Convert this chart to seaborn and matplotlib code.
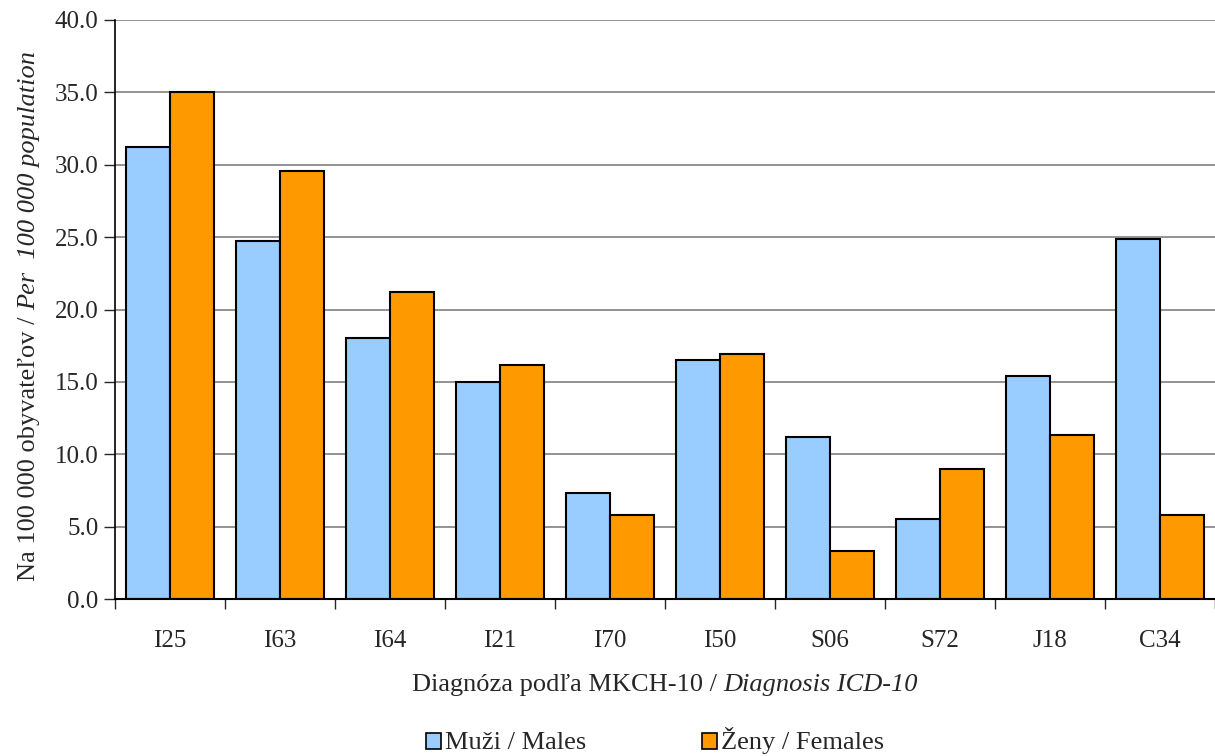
import numpy as np
import pandas as pd
import matplotlib
matplotlib.use("Agg")
import matplotlib.pyplot as plt
import seaborn as sns
from matplotlib.patches import Rectangle
from matplotlib.ticker import FormatStrFormatter, MultipleLocator

diagnoses = ["I25", "I63", "I64", "I21", "I70", "I50", "S06", "S72", "J18", "C34"]
males = [31.2, 24.7, 18.0, 15.0, 7.3, 16.5, 11.2, 5.5, 15.4, 24.9]
females = [35.0, 29.6, 21.2, 16.2, 5.8, 16.9, 3.3, 9.0, 11.3, 5.8]
series_names = ["Muži / Males", "Ženy / Females"]
colors = ["#99CCFF", "#FF9900"]

df = pd.DataFrame({
    "diag": diagnoses * 2,
    "value": males + females,
    "sex": [series_names[0]] * len(males) + [series_names[1]] * len(females),
})

sns.set_style("white")
plt.rcParams["font.family"] = ["Liberation Serif", "DejaVu Serif"]
TICK_FS = 18
LABEL_FS = 19

fig = plt.figure(figsize=(12.15, 7.56), dpi=100)
W, H = 1215, 756
ax = fig.add_axes([115 / W, 1 - 599 / H, 1100 / W, 579 / H])

sns.barplot(data=df, x="diag", y="value", hue="sex", palette=colors,
            width=0.8, edgecolor="black", linewidth=1.5, saturation=1,
            legend=False, ax=ax)

ax.set_ylim(0, 40)
ax.set_xlim(-0.5, len(diagnoses) - 0.5)
ax.yaxis.set_major_locator(MultipleLocator(5))
ax.yaxis.set_major_formatter(FormatStrFormatter("%.1f"))
ax.grid(axis="y", color="#808080", linewidth=1.2)
ax.set_axisbelow(True)
ax.set_xlabel("")
ax.set_ylabel("")

for s in ["top", "right"]:
    ax.spines[s].set_visible(False)
ax.spines["left"].set_color("black")
ax.spines["bottom"].set_color("black")
ax.spines["left"].set_linewidth(1.2)
ax.spines["bottom"].set_linewidth(1.5)

ax.tick_params(axis="y", which="major", direction="out", length=8, width=1,
               labelsize=TICK_FS, left=True, pad=4)
ax.tick_params(axis="x", which="major", length=0, labelsize=TICK_FS, pad=22)
ax.set_xticks(np.arange(-0.5, len(diagnoses)), minor=True)
ax.tick_params(axis="x", which="minor", direction="out", length=7, width=1,
               bottom=True)

fig.canvas.draw()
renderer = fig.canvas.get_renderer()


def mixed_text(pieces, x, y, rotation=0):
    # pieces: list of (text, style); centred at (x, y) in figure pixels
    tmp = []
    for txt, style in pieces:
        t = fig.text(0, 0, txt, fontsize=LABEL_FS, style=style, rotation=rotation)
        bb = t.get_window_extent(renderer)
        tmp.append(bb.height if rotation else bb.width)
        t.remove()
    total = sum(tmp)
    pos = (y - total / 2) if rotation else (x - total / 2)
    for (txt, style), ln in zip(pieces, tmp):
        if rotation:
            fig.text(x / W, pos / H, txt, fontsize=LABEL_FS, style=style,
                     rotation=90, rotation_mode="anchor", ha="left", va="center")
        else:
            fig.text(pos / W, y / H, txt, fontsize=LABEL_FS, style=style,
                     ha="left", va="center")
        pos += ln


mixed_text([("Na 100 000 obyvateľov / ", "normal"),
            ("Per  100 000 population", "italic")], 29, H - 316, rotation=90)
mixed_text([("Diagnóza podľa MKCH-10 / ", "normal"),
            ("Diagnosis ICD-10", "italic")], 665, H - 685)

# legend
for i, (name, c) in enumerate(zip(series_names, colors)):
    x0 = [426, 702][i]
    fig.patches.append(Rectangle((x0 / W, (H - 749) / H), 15 / W, 16 / H,
                                 transform=fig.transFigure, facecolor=c,
                                 edgecolor="black", linewidth=1.2))
    fig.text((x0 + 19) / W, (H - 749) / H, name, fontsize=LABEL_FS, ha="left",
             va="baseline")

fig.savefig("out.png", dpi=100)
